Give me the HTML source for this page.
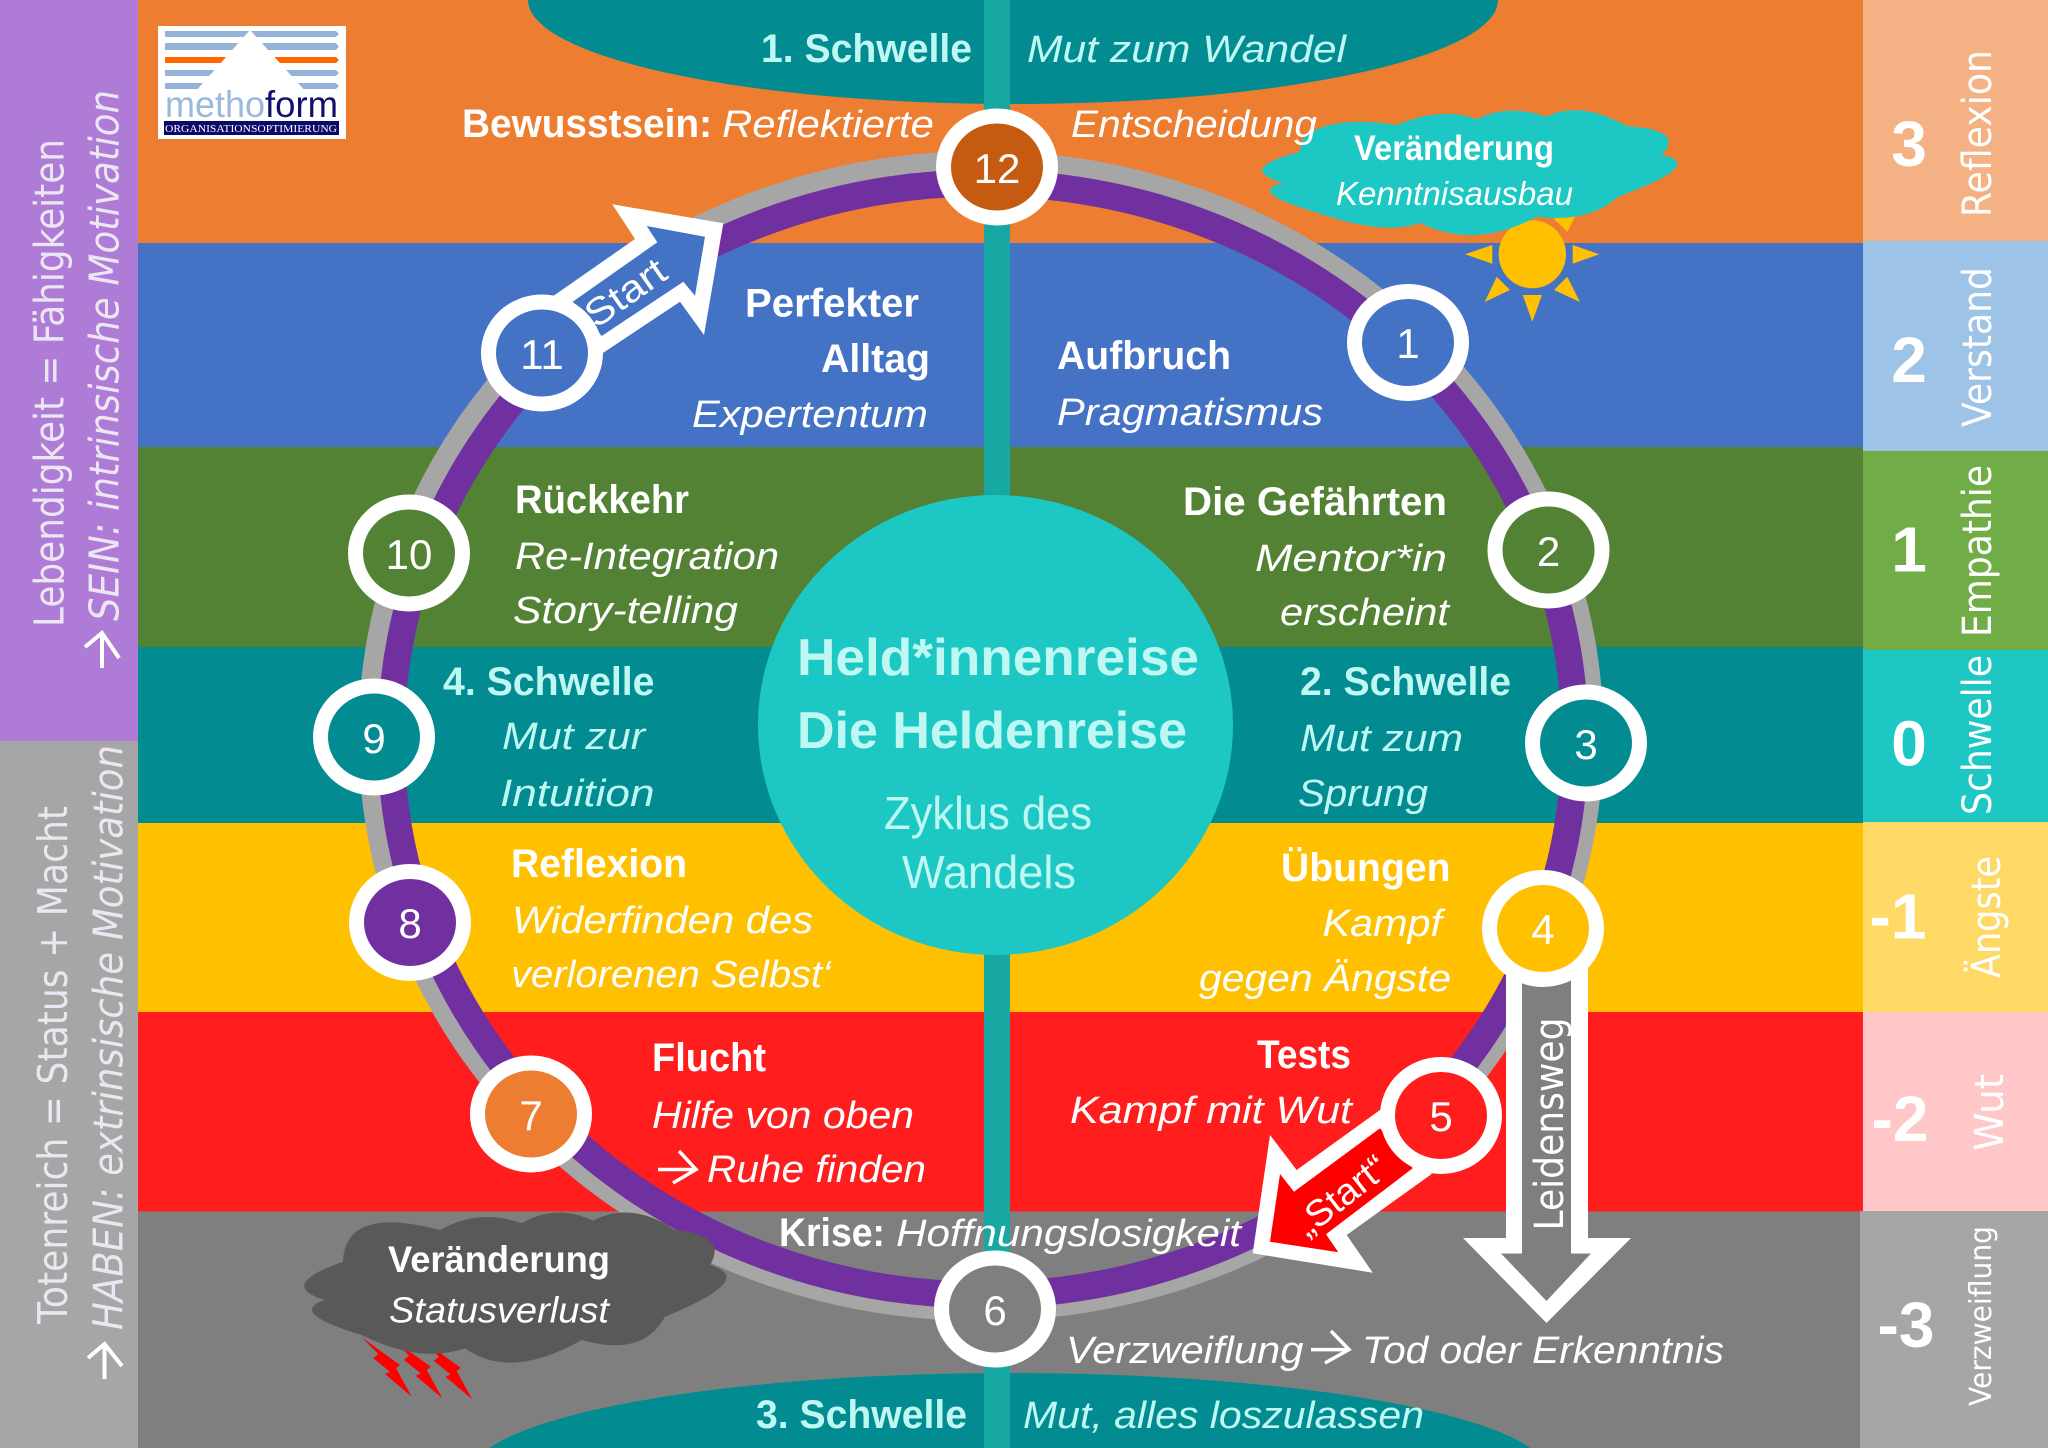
<!DOCTYPE html>
<html lang="de"><head><meta charset="utf-8"><title>Held*innenreise</title>
<style>
html,body{margin:0;padding:0;background:#fff;width:2048px;height:1448px;overflow:hidden}
svg{display:block}
text{font-family:"Liberation Sans",sans-serif}
.b{font-weight:bold;font-size:39.5px;fill:#fff}
.i{font-style:italic;font-size:38px;fill:#fff}
.cb{font-weight:bold;font-size:39.5px;fill:#BFF8F3}
.ci{font-style:italic;font-size:38px;fill:#BFF8F3}
.n{font-size:42px;fill:#fff;text-anchor:middle}
.v{font-weight:bold;font-size:64px;fill:#fff;text-anchor:middle}
.d{font-family:"DejaVu Sans",sans-serif;font-size:40px;fill:#fff}
.l{font-family:"DejaVu Sans",sans-serif;font-size:41px;fill:#ECE6F2}
.o{font-style:oblique}
</style></head><body>
<svg width="2048" height="1448" viewBox="0 0 2048 1448" xmlns="http://www.w3.org/2000/svg">
<!-- bands -->
<rect x="138" y="0" width="1725" height="243" fill="#ED7D31"/>
<rect x="138" y="243" width="1725" height="204" fill="#4472C4"/>
<rect x="138" y="447" width="1725" height="200" fill="#548235"/>
<rect x="138" y="647" width="1725" height="176" fill="#028C92"/>
<rect x="138" y="823" width="1725" height="189" fill="#FFC000"/>
<rect x="138" y="1012" width="1725" height="199.500" fill="#FF1D1D"/>
<rect x="138" y="1211.500" width="1725" height="236.500" fill="#7F7F7F"/>
<!-- left panel -->
<rect x="0" y="0" width="138" height="741" fill="#AE7BD6"/>
<rect x="0" y="741" width="138" height="707" fill="#A6A6A6"/>
<!-- right panel -->
<rect x="1863" y="0" width="185" height="241" fill="#F4B183"/>
<rect x="1863" y="241" width="185" height="210" fill="#9DC3E6"/>
<rect x="1863" y="451" width="185" height="199" fill="#70AD47"/>
<rect x="1863" y="650" width="185" height="172" fill="#1DC8C4"/>
<rect x="1863" y="822" width="185" height="190" fill="#FFD966"/>
<rect x="1863" y="1012" width="185" height="199" fill="#FFC7C7"/>
<rect x="1860" y="1211" width="188" height="237" fill="#A6A6A6"/>
<!-- threshold ellipses -->
<path d="M528,0 A485,104 0 0 0 1498,0 Z" fill="#028C92"/>
<path d="M489.300,1448 A540,102 0 0 1 1530.700,1448 Z" fill="#028C92"/>
<!-- central bar -->
<rect x="984" y="0" width="26" height="1448" fill="#17A8A4"/>
<!-- centre circle -->
<ellipse cx="995.500" cy="725" rx="237.500" ry="230" fill="#1DC8C4"/>
<!-- ring -->
<ellipse cx="981" cy="736" rx="612" ry="574.500" fill="none" stroke="#A6A6A6" stroke-width="21"/>
<ellipse cx="983" cy="739" rx="592" ry="556" fill="none" stroke="#7030A0" stroke-width="27"/>
<!-- sun -->
<ellipse cx="1532.300" cy="254.300" rx="33.700" ry="34" fill="#FFC000"/>
<g fill="#FFC000">
<polygon points="1465,254.300 1492.300,245 1492.300,263.700"/>
<polygon points="1599.300,254.300 1572.700,245 1572.700,263.700"/>
<polygon points="1532.300,321.700 1522.700,295 1542,295"/>
<polygon points="1484.700,302 1496.700,276.700 1510,290"/>
<polygon points="1580,302 1567.300,276.700 1554,290"/>
<polygon points="1580,206.700 1567.300,231.700 1554,219"/>
</g>
<!-- bolts -->
<g fill="#FF0000">
<polygon points="361.700,1337.300 400,1365 396,1368.300 411.700,1396.700 385,1374 390,1371.700 373.300,1358.300 378.300,1354"/>
<polygon transform="translate(30.700,1.700)" points="361.700,1337.300 400,1365 396,1368.300 411.700,1396.700 385,1374 390,1371.700 373.300,1358.300 378.300,1354"/>
<polygon transform="translate(60.600,2.700)" points="361.700,1337.300 400,1365 396,1368.300 411.700,1396.700 385,1374 390,1371.700 373.300,1358.300 378.300,1354"/>
</g>
<!-- cyan cloud -->
<path fill="#1DC8C4" d="M1315,130 Q1344,116.500 1396.700,125 Q1443.300,105.850 1476.700,119.300 Q1508.300,103.400 1546.700,116.700 Q1579.300,100 1626.700,126 Q1685.800,130 1661.700,155 Q1708,164 1618,196.700 Q1588.600,223.300 1536.700,216.700 Q1475,250 1420,223 Q1384,236 1318,213 Q1245,192 1283,183 Q1234.500,168.700 1300,151.700 Q1300,135 1315,130 Z"/>
<!-- dark cloud -->
<path fill="#595959" d="M343,1261.700 Q345,1205 440,1230 Q479,1208 521.700,1223.300 Q556,1203.400 593,1220.700 Q632,1200.600 675,1230 Q728,1235 710,1265 Q758,1279 665,1316.700 Q642.600,1357.600 581.700,1340 Q510,1380.600 465,1348.300 Q420,1364 361.700,1335 Q286.600,1312.500 325,1300 Q276,1285 343,1261.700 Z"/>
<!-- arrow Start (11) -->
<polygon points="723.300,223.300 612.300,204.300 635,239 553.300,296 603.300,352.700 680,301.700 704,335" fill="#fff"/>
<polygon points="705,236.700 646.700,226 657.300,242.300 572.700,301.700 601.700,336 683.300,281.700 695,295.700" fill="#4472C4"/>
<text transform="translate(596,329) rotate(-35)" font-size="38" fill="#fff" textLength="90" lengthAdjust="spacingAndGlyphs">Start</text>
<!-- arrow Leidensweg -->
<polygon points="1506,940 1588,940 1588,1238 1631,1238 1546.500,1323 1463,1238 1506,1238" fill="#fff"/>
<polygon points="1522,960 1571,960 1571,1253.500 1591,1253.500 1546.500,1301 1501,1253.500 1522,1253.500" fill="#7F7F7F"/>
<text class="d" transform="translate(1563,1230.500) rotate(-90)" textLength="213" lengthAdjust="spacingAndGlyphs">Leidensweg</text>
<!-- arrow „Start“ (5) -->
<polygon points="1252.700,1253.300 1270,1135 1296.700,1170 1380,1110 1431.700,1174 1346.700,1235 1372.700,1272.700" fill="#fff"/>
<polygon points="1270,1241.700 1280,1174 1294,1191.700 1380,1128.300 1412.700,1168.300 1326,1234.300 1338.300,1252.300" fill="#FF0000"/>
<text transform="translate(1307,1238) rotate(-38)" font-size="37" fill="#fff" textLength="106" lengthAdjust="spacingAndGlyphs">„Start“</text>
<!-- nodes -->
<g stroke="#fff" stroke-width="15">
<ellipse cx="997" cy="167" rx="53.500" ry="51" fill="#C55A11"/>
<ellipse cx="1408" cy="342.500" rx="53.500" ry="51" fill="#4472C4"/>
<ellipse cx="1548.500" cy="550" rx="53.500" ry="51" fill="#548235"/>
<ellipse cx="1586" cy="743" rx="53.500" ry="51" fill="#028C92"/>
<ellipse cx="1543" cy="928.500" rx="53.500" ry="51" fill="#FFC000"/>
<ellipse cx="1441" cy="1115.500" rx="53.500" ry="51" fill="#FF1D1D"/>
<ellipse cx="995" cy="1309" rx="53.500" ry="51" fill="#7F7F7F"/>
<ellipse cx="531" cy="1114" rx="53.500" ry="51" fill="#ED7D31"/>
<ellipse cx="410" cy="922.500" rx="53.500" ry="51" fill="#7030A0"/>
<ellipse cx="374" cy="737" rx="53.500" ry="51" fill="#028C92"/>
<ellipse cx="409" cy="553" rx="53.500" ry="51" fill="#548235"/>
<ellipse cx="542" cy="353" rx="53.500" ry="51" fill="#4472C4"/>
</g>
<text class="n" x="997" y="183">12</text>
<text class="n" x="1408" y="358">1</text>
<text class="n" x="1548.500" y="566">2</text>
<text class="n" x="1586" y="759">3</text>
<text class="n" x="1543" y="944">4</text>
<text class="n" x="1441" y="1131">5</text>
<text class="n" x="995" y="1325">6</text>
<text class="n" x="531" y="1130">7</text>
<text class="n" x="410" y="938">8</text>
<text class="n" x="374" y="753">9</text>
<text class="n" x="409" y="569">10</text>
<text class="n" x="542" y="369">11</text>
<!-- logo -->
<rect x="158" y="26" width="188" height="113" fill="#fff"/>
<g fill="#95B3D7">
<polygon points="165,31 336,31 339,34 336,37 165,37"/>
<polygon points="165,43 336,43 339,46.500 336,50 165,50"/>
<polygon points="165,70 336,70 339,73 336,76 165,76"/>
<polygon points="165,83 336,83 339,86 336,89 165,89"/>
</g>
<polygon points="165,57 336,57 339,60 336,63 165,63" fill="#FF6600"/>
<polygon points="250,30 195,92 306,92" fill="#fff"/>
<text x="165" y="117" font-size="37" fill="#9AB7DC" textLength="100" lengthAdjust="spacingAndGlyphs">metho</text>
<text x="265" y="117" font-size="37" fill="#0F0F6E" textLength="73" lengthAdjust="spacingAndGlyphs">form</text>
<rect x="164" y="121" width="175" height="14" fill="#0A0A6A"/>
<text x="165" y="132" font-size="11" fill="#fff" style="font-family:'Liberation Serif',serif" textLength="172" lengthAdjust="spacingAndGlyphs">ORGANISATIONSOPTIMIERUNG</text>
<!-- top -->
<text class="cb" x="761" y="62" textLength="211" lengthAdjust="spacingAndGlyphs">1. Schwelle</text>
<text class="ci" x="1027" y="62" textLength="319" lengthAdjust="spacingAndGlyphs">Mut zum Wandel</text>
<text class="b" x="462" y="137" textLength="250" lengthAdjust="spacingAndGlyphs">Bewusstsein:</text>
<text class="i" x="722" y="137" textLength="212" lengthAdjust="spacingAndGlyphs">Reflektierte</text>
<text class="i" x="1071" y="137" textLength="246" lengthAdjust="spacingAndGlyphs">Entscheidung</text>
<text class="b" x="1354" y="160" style="font-size:35px" textLength="200" lengthAdjust="spacingAndGlyphs">Veränderung</text>
<text class="i" x="1336" y="205" style="font-size:33px" textLength="237" lengthAdjust="spacingAndGlyphs">Kenntnisausbau</text>
<!-- right labels -->
<text class="b" x="1057" y="369" textLength="174" lengthAdjust="spacingAndGlyphs">Aufbruch</text>
<text class="i" x="1057" y="425" textLength="266" lengthAdjust="spacingAndGlyphs">Pragmatismus</text>
<text class="b" x="1183" y="515" textLength="264" lengthAdjust="spacingAndGlyphs">Die Gefährten</text>
<text class="i" x="1255" y="571" textLength="192" lengthAdjust="spacingAndGlyphs">Mentor*in</text>
<text class="i" x="1280" y="625" textLength="169" lengthAdjust="spacingAndGlyphs">erscheint</text>
<text class="cb" x="1300" y="695" textLength="211" lengthAdjust="spacingAndGlyphs">2. Schwelle</text>
<text class="ci" x="1300" y="751" textLength="163" lengthAdjust="spacingAndGlyphs">Mut zum</text>
<text class="ci" x="1298" y="806" textLength="130" lengthAdjust="spacingAndGlyphs">Sprung</text>
<text class="b" x="1281" y="881" textLength="169.500" lengthAdjust="spacingAndGlyphs">Übungen</text>
<text class="i" x="1322.500" y="936" textLength="119.500" lengthAdjust="spacingAndGlyphs">Kampf</text>
<text class="i" x="1199" y="991" textLength="252" lengthAdjust="spacingAndGlyphs">gegen Ängste</text>
<text class="b" x="1257" y="1068" textLength="94" lengthAdjust="spacingAndGlyphs">Tests</text>
<text class="i" x="1070" y="1123" textLength="282" lengthAdjust="spacingAndGlyphs">Kampf mit Wut</text>
<!-- left labels -->
<text class="b" x="745" y="316.500" textLength="174" lengthAdjust="spacingAndGlyphs">Perfekter</text>
<text class="b" x="821" y="372" textLength="109" lengthAdjust="spacingAndGlyphs">Alltag</text>
<text class="i" x="692" y="427" textLength="236" lengthAdjust="spacingAndGlyphs">Expertentum</text>
<text class="b" x="515" y="513" textLength="174" lengthAdjust="spacingAndGlyphs">Rückkehr</text>
<text class="i" x="515" y="569" textLength="264" lengthAdjust="spacingAndGlyphs">Re-Integration</text>
<text class="i" x="513" y="623" textLength="225" lengthAdjust="spacingAndGlyphs">Story-telling</text>
<text class="cb" x="443" y="695" textLength="211.500" lengthAdjust="spacingAndGlyphs">4. Schwelle</text>
<text class="ci" x="502" y="749" textLength="143" lengthAdjust="spacingAndGlyphs">Mut zur</text>
<text class="ci" x="500" y="806" textLength="154.500" lengthAdjust="spacingAndGlyphs">Intuition</text>
<text class="b" x="511" y="877" textLength="176" lengthAdjust="spacingAndGlyphs">Reflexion</text>
<text class="i" x="512" y="933" textLength="301" lengthAdjust="spacingAndGlyphs">Widerfinden des</text>
<text class="i" x="511" y="987" textLength="320" lengthAdjust="spacingAndGlyphs">verlorenen Selbst‘</text>
<text class="b" x="652" y="1071" textLength="114" lengthAdjust="spacingAndGlyphs">Flucht</text>
<text class="i" x="652" y="1128" textLength="262" lengthAdjust="spacingAndGlyphs">Hilfe von oben</text>
<line x1="658" y1="1169.500" x2="696" y2="1169.500" stroke="#fff" stroke-width="3.500"/>
<polyline points="679,1151 696,1169.500 673,1183" fill="none" stroke="#fff" stroke-width="3.500"/>
<text class="i" x="707" y="1182" textLength="219" lengthAdjust="spacingAndGlyphs">Ruhe finden</text>
<text class="b" x="779" y="1246" textLength="106" lengthAdjust="spacingAndGlyphs">Krise:</text>
<text class="i" x="896" y="1246" textLength="345" lengthAdjust="spacingAndGlyphs">Hoffnungslosigkeit</text>
<text class="b" x="388" y="1272" style="font-size:37px" textLength="222" lengthAdjust="spacingAndGlyphs">Veränderung</text>
<text class="i" x="389" y="1322.500" style="font-size:36px" textLength="220" lengthAdjust="spacingAndGlyphs">Statusverlust</text>
<text class="i" x="1066" y="1363" textLength="237.500" lengthAdjust="spacingAndGlyphs">Verzweiflung</text>
<line x1="1311" y1="1349.600" x2="1349" y2="1349.600" stroke="#fff" stroke-width="3.500"/>
<polyline points="1331,1331 1349,1349.600 1325,1363" fill="none" stroke="#fff" stroke-width="3.500"/>
<text class="i" x="1362" y="1363" textLength="362" lengthAdjust="spacingAndGlyphs">Tod oder Erkenntnis</text>
<text class="cb" x="756" y="1428" textLength="211" lengthAdjust="spacingAndGlyphs">3. Schwelle</text>
<text class="ci" x="1023" y="1428" textLength="401" lengthAdjust="spacingAndGlyphs">Mut, alles loszulassen</text>
<!-- centre -->
<text x="797" y="675" font-weight="bold" font-size="52" fill="#BFF8F3" textLength="402" lengthAdjust="spacingAndGlyphs">Held*innenreise</text>
<text x="797" y="748" font-weight="bold" font-size="52" fill="#BFF8F3" textLength="390" lengthAdjust="spacingAndGlyphs">Die Heldenreise</text>
<text x="884" y="829" font-size="46" fill="#BFF8F3" textLength="208" lengthAdjust="spacingAndGlyphs">Zyklus des</text>
<text x="902" y="888" font-size="46" fill="#BFF8F3" textLength="174" lengthAdjust="spacingAndGlyphs">Wandels</text>
<!-- left panel text -->
<text class="l" transform="translate(63.500,627) rotate(-90)" textLength="488" lengthAdjust="spacingAndGlyphs">Lebendigkeit = Fähigkeiten</text>
<text class="l o" transform="translate(118.500,621) rotate(-90)" textLength="531" lengthAdjust="spacingAndGlyphs">SEIN: intrinsische Motivation</text>
<line x1="102" y1="668" x2="102" y2="633" stroke="#fff" stroke-width="4"/>
<polyline points="85,647 102,633 119,658" fill="none" stroke="#fff" stroke-width="4"/>
<text class="l" transform="translate(67,1324) rotate(-90)" textLength="518" lengthAdjust="spacingAndGlyphs">Totenreich = Status + Macht</text>
<text class="l o" transform="translate(122.500,1330) rotate(-90)" textLength="585" lengthAdjust="spacingAndGlyphs">HABEN: extrinsische Motivation</text>
<line x1="104.500" y1="1379" x2="104.500" y2="1344" stroke="#fff" stroke-width="4"/>
<polyline points="88,1358 104.500,1344 122,1366" fill="none" stroke="#fff" stroke-width="4"/>
<!-- right panel text -->
<text class="v" x="1909" y="166">3</text>
<text class="v" x="1909" y="382">2</text>
<text class="v" x="1909" y="571.500">1</text>
<text class="v" x="1909" y="765.500">0</text>
<text class="v" x="1898" y="938.500">-1</text>
<text class="v" x="1900" y="1141">-2</text>
<text class="v" x="1906" y="1347">-3</text>
<text class="d" transform="translate(1991,217) rotate(-90)" textLength="167" lengthAdjust="spacingAndGlyphs">Reflexion</text>
<text class="d" transform="translate(1991,427) rotate(-90)" textLength="160" lengthAdjust="spacingAndGlyphs">Verstand</text>
<text class="d" transform="translate(1991,637) rotate(-90)" textLength="172" lengthAdjust="spacingAndGlyphs">Empathie</text>
<text class="d" transform="translate(1991,815) rotate(-90)" textLength="160" lengthAdjust="spacingAndGlyphs">Schwelle</text>
<text class="d" transform="translate(2000,978) rotate(-90)" textLength="122" lengthAdjust="spacingAndGlyphs">Ängste</text>
<text class="d" transform="translate(2003,1151) rotate(-90)" textLength="77" lengthAdjust="spacingAndGlyphs">Wut</text>
<text class="d" transform="translate(1991,1406) rotate(-90)" style="font-size:30px" textLength="180" lengthAdjust="spacingAndGlyphs">Verzweiflung</text>
</svg>
</body></html>
